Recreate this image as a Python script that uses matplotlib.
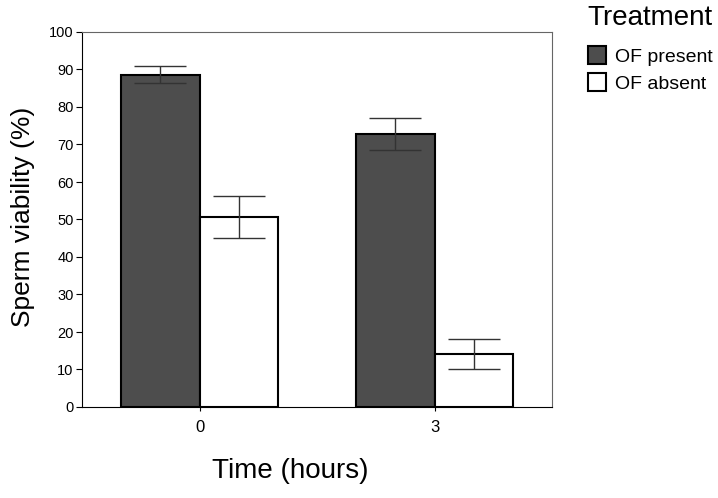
import matplotlib.pyplot as plt
import numpy as np

plt.rcParams['font.family'] = ['Liberation Sans', 'DejaVu Sans']

times = ['0', '3']
treatments = ['OF present', 'OF absent']
viability = {'OF present': [88.6, 72.7], 'OF absent': [50.7, 14.1]}
errors = {'OF present': [2.3, 4.3], 'OF absent': [5.6, 4.1]}
colors = {'OF present': '#4d4d4d', 'OF absent': 'white'}

fig = plt.figure(figsize=(7.18, 4.98), dpi=100)
ax = fig.add_axes([82 / 718, 1 - 407 / 498, 470 / 718, 375 / 498])

x = np.arange(len(times))
w = 1 / 3
for i, t in enumerate(treatments):
    pos = x + (i - 0.5) * w
    ax.bar(pos, viability[t], width=w, color=colors[t], edgecolor='black',
           linewidth=1.5, label=t, zorder=2)
    ax.errorbar(pos, viability[t], yerr=errors[t], fmt='none', ecolor='#333333',
                elinewidth=1, capsize=19, capthick=1, zorder=3)

ax.set_xlim(-0.5, 1.5)
ax.set_ylim(0, 100)
ax.set_yticks(range(0, 101, 10))
ax.set_xticks(x)
ax.set_xticklabels(times, fontsize=12)
ax.tick_params(axis='y', labelsize=10.5, length=4, pad=2)
ax.tick_params(axis='x', length=3, pad=6)
ax.spines['top'].set_color('#666666')
ax.spines['right'].set_color('#666666')
ax.set_ylabel('Sperm viability (%)', fontsize=19)
ax.yaxis.set_label_coords(-0.1, 0.507)
ax.set_xlabel('Time (hours)', fontsize=20)
ax.xaxis.set_label_coords(0.443, -0.135)

# legend title drawn separately so the gap matches
fig.text(587 / 718, 1 - 5 / 498, 'Treatment', fontsize=20, ha='left', va='top')
fig.legend(loc='upper left', bbox_to_anchor=(584 / 718, 1 - 42 / 498), frameon=False,
           fontsize=14, handlelength=0.95, handleheight=1.05, handletextpad=0.45,
           labelspacing=0.38, borderpad=0.2, borderaxespad=0)

fig.savefig('out.png', dpi=100)
